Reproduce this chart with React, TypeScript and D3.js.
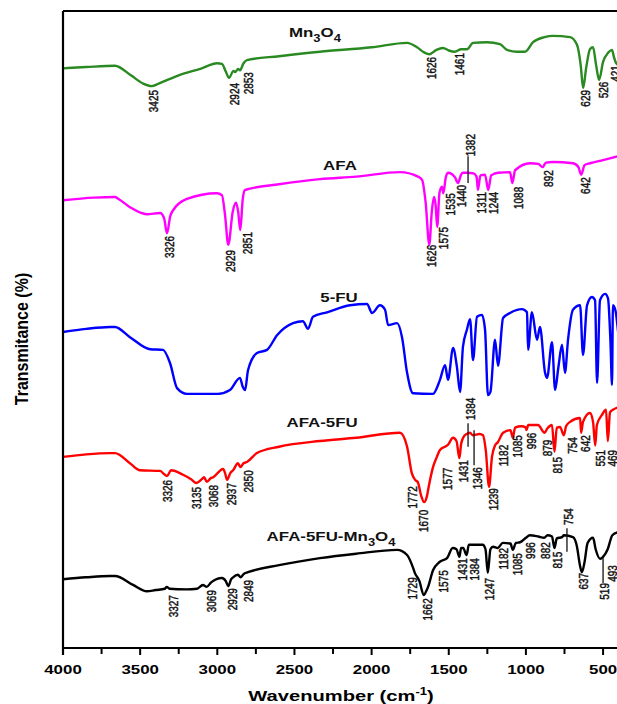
import React from 'react';
import * as d3 from 'd3';

const WIDTH = 617;
const HEIGHT = 704;

// x ticks (wavenumber, cm-1)
const majorTicks = [4000, 3500, 3000, 2500, 2000, 1500, 1000, 500];
const minorTicks = [3750, 3250, 2750, 2250, 1750, 1250, 750];

// Spectra: [wavenumber, transmittance (offset, a.u.)]
const mn3o4: [number, number][] = [
  [4000, 91.0], [3850, 91.2], [3663, 91.4], [3560, 89.9], [3480, 88.6], [3425, 88.2], [3380, 88.6],
  [3250, 89.9], [3100, 91.0], [3002, 91.8], [2970, 91.7], [2945, 90.5], [2924, 89.5], [2895, 90.6],
  [2885, 90.4], [2865, 90.9], [2853, 90.7], [2830, 91.8], [2808, 92.3], [2600, 92.9], [2335, 93.6],
  [2000, 94.3], [1770, 95.0], [1706, 94.3], [1660, 93.5], [1626, 93.2], [1580, 93.9], [1537, 94.2],
  [1500, 93.8], [1461, 93.6], [1420, 94.0], [1382, 94.0], [1343, 95.0], [1252, 95.1], [1168, 94.8],
  [1123, 93.9], [1058, 93.6], [1006, 93.6], [954, 95.1], [880, 95.9], [824, 96.1], [714, 95.9],
  [669, 94.7], [645, 91.5], [629, 87.9], [610, 91.0], [585, 94.0], [565, 94.3], [545, 91.5],
  [526, 89.2], [500, 92.0], [465, 93.5], [442, 93.9], [430, 92.8], [415, 91.8], [400, 91.5],
];

const afa: [number, number][] = [
  [4000, 70.3], [3800, 70.7], [3663, 70.8], [3640, 70.5], [3566, 69.2], [3456, 68.1], [3371, 68.3],
  [3345, 67.5], [3326, 65.1], [3305, 67.8], [3287, 68.7], [3197, 70.5], [3002, 71.4], [2970, 71.1],
  [2950, 68.0], [2929, 63.3], [2900, 68.5], [2879, 69.9], [2865, 68.5], [2851, 65.6], [2835, 70.5],
  [2820, 71.9], [2600, 72.8], [2335, 73.6], [2100, 74.0], [1816, 74.7], [1700, 74.0], [1673, 73.5],
  [1650, 70.0], [1626, 63.3], [1610, 68.5], [1596, 70.8], [1585, 69.5], [1575, 66.1], [1560, 71.5],
  [1544, 72.4], [1535, 71.4], [1520, 73.8], [1505, 74.6], [1460, 73.9], [1440, 73.0], [1420, 74.3],
  [1408, 74.6], [1382, 74.6], [1340, 74.5], [1320, 74.0], [1311, 71.9], [1295, 74.2], [1265, 74.3],
  [1244, 71.9], [1225, 74.2], [1180, 74.6], [1103, 74.7], [1088, 73.0], [1070, 75.0], [973, 76.1],
  [920, 76.0], [892, 75.5], [870, 76.2], [824, 76.3], [695, 76.1], [660, 75.5], [642, 74.3],
  [620, 75.8], [585, 76.1], [500, 76.6], [400, 77.2],
];

const fu5: [number, number][] = [
  [4000, 49.6], [3850, 50.1], [3695, 50.4], [3663, 50.4], [3566, 48.8], [3436, 46.9], [3352, 46.8],
  [3306, 44.7], [3261, 40.8], [3197, 39.9], [2996, 39.9], [2918, 40.5], [2853, 42.4], [2835, 41.0],
  [2820, 40.5], [2801, 43.6], [2743, 46.3], [2678, 46.8], [2613, 49.1], [2509, 51.0], [2445, 51.3],
  [2412, 50.1], [2380, 52.0], [2289, 52.7], [2140, 53.8], [2030, 54.0], [1997, 52.6], [1946, 53.8],
  [1913, 53.1], [1893, 50.7], [1835, 51.0], [1803, 48.8], [1770, 43.2], [1732, 40.0], [1602, 39.9],
  [1557, 42.1], [1524, 44.4], [1505, 42.1], [1472, 47.1], [1447, 44.1], [1427, 40.2], [1408, 47.3],
  [1382, 50.0], [1362, 51.6], [1343, 45.2], [1317, 52.0], [1285, 52.3], [1265, 50.0], [1246, 39.7],
  [1230, 40.2], [1200, 48.4], [1181, 44.3], [1148, 51.8], [1103, 52.6], [1025, 53.2], [993, 52.7],
  [986, 46.8], [961, 52.7], [928, 48.4], [909, 50.4], [876, 43.2], [863, 42.4], [831, 48.0],
  [811, 40.5], [790, 44.0], [766, 47.6], [747, 43.2], [727, 48.4], [695, 53.1], [649, 53.8],
  [630, 46.0], [604, 53.8], [572, 55.1], [552, 54.6], [539, 41.6], [520, 54.6], [487, 55.6],
  [468, 54.9], [452, 48.0], [442, 41.3], [436, 53.8], [420, 53.0], [400, 49.0],
];

const afa5fu: [number, number][] = [
  [4000, 30.0], [3850, 30.4], [3695, 30.6], [3663, 30.6], [3566, 29.0], [3501, 27.9], [3371, 27.8],
  [3345, 27.3], [3326, 27.0], [3300, 27.9], [3222, 27.2], [3170, 26.5], [3135, 25.9], [3100, 26.5],
  [3086, 26.8], [3068, 26.1], [3040, 26.7], [3028, 26.8], [2963, 28.1], [2950, 27.5], [2937, 26.4],
  [2915, 27.5], [2898, 27.9], [2866, 29.0], [2850, 28.4], [2830, 29.0], [2808, 29.2], [2743, 30.6],
  [2600, 31.6], [2335, 32.5], [2100, 33.0], [1816, 33.8], [1770, 31.6], [1740, 27.5], [1718, 26.4],
  [1700, 26.0], [1680, 24.0], [1660, 22.9], [1640, 24.0], [1634, 24.8], [1602, 28.4], [1577, 30.0],
  [1557, 31.1], [1505, 31.9], [1472, 33.0], [1450, 32.5], [1431, 29.8], [1420, 32.0], [1407, 33.0],
  [1384, 33.6], [1362, 33.8], [1346, 33.4], [1300, 33.6], [1278, 33.4], [1260, 31.0], [1239, 25.3],
  [1220, 30.0], [1200, 31.8], [1182, 32.3], [1148, 33.8], [1100, 34.2], [1085, 33.0], [1070, 34.6],
  [1030, 34.8], [1000, 34.6], [996, 34.2], [985, 35.0], [922, 35.0], [879, 33.8], [860, 34.5],
  [831, 35.0], [815, 30.8], [800, 34.6], [779, 34.7], [754, 33.4], [740, 34.8], [714, 35.5],
  [649, 36.1], [642, 33.8], [630, 35.5], [585, 36.9], [565, 35.5], [551, 31.8], [540, 35.0],
  [507, 36.6], [481, 37.4], [469, 32.5], [455, 37.0], [436, 37.4], [400, 37.8],
];

const afa5fuMn: [number, number][] = [
  [4000, 10.8], [3850, 11.1], [3695, 11.3], [3663, 11.3], [3546, 9.9], [3456, 8.9], [3400, 9.1],
  [3340, 9.3], [3327, 9.6], [3310, 9.3], [3200, 9.2], [3132, 9.3], [3093, 9.9], [3069, 9.6],
  [3040, 10.3], [2970, 11.0], [2945, 10.5], [2929, 9.7], [2910, 10.8], [2898, 11.1], [2866, 11.5],
  [2849, 11.1], [2830, 11.6], [2801, 11.9], [2600, 13.0], [2335, 14.1], [2100, 14.8], [1835, 15.4],
  [1770, 14.6], [1730, 12.5], [1720, 11.8], [1690, 10.5], [1662, 8.3], [1645, 9.0], [1634, 9.6],
  [1602, 12.2], [1560, 13.5], [1511, 14.1], [1475, 15.7], [1450, 15.5], [1431, 14.3], [1420, 15.7],
  [1407, 15.7], [1384, 14.6], [1370, 16.2], [1280, 16.2], [1262, 15.5], [1247, 11.8], [1230, 15.5],
  [1213, 15.9], [1182, 15.7], [1150, 16.5], [1100, 16.4], [1085, 15.4], [1065, 16.5], [1038, 16.6],
  [1000, 17.3], [975, 17.7], [920, 17.5], [882, 17.3], [860, 17.7], [831, 17.5], [815, 15.7],
  [800, 17.2], [766, 17.4], [754, 17.7], [695, 17.4], [670, 16.0], [650, 13.0], [637, 11.9],
  [620, 13.5], [600, 16.5], [565, 17.3], [548, 15.5], [519, 14.0], [500, 14.3], [470, 15.5],
  [440, 17.7], [400, 18.2],
];

// Peak annotations: [label, wavenumber position, transmittance of label top]
type Peak = [string, number, number];
const mn3o4Peaks: Peak[] = [
  ['3425', 3417, 87.6], ['2924', 2892, 88.7], ['2853', 2801, 90.4], ['1626', 1615, 92.8],
  ['1461', 1434, 93.4], ['629', 617, 87.6], ['526', 500, 88.9], ['421', 423, 91.5],
];
const afaPeaks: Peak[] = [
  ['3326', 3307, 64.7], ['2929', 2918, 62.5], ['2851', 2807, 65.3], ['1626', 1615, 63.3],
  ['1575', 1537, 66.1], ['1535', 1486, 71.4], ['1440', 1421, 72.7], ['1311', 1285, 71.6],
  ['1244', 1213, 71.6], ['1088', 1051, 72.4], ['892', 857, 75.0], ['642', 617, 73.9],
];
const afa5fuPeaks: Peak[] = [
  ['3326', 3326, 26.4], ['3135', 3132, 25.3], ['3068', 3028, 25.6], ['2937', 2911, 25.9],
  ['2850', 2795, 27.9], ['1772', 1738, 25.4], ['1670', 1667, 21.7], ['1577', 1511, 28.3],
  ['1431', 1408, 29.5], ['1346', 1317, 28.4], ['1239', 1213, 25.1], ['1182', 1148, 31.9],
  ['1085', 1058, 33.4], ['996', 961, 33.8], ['879', 863, 32.7], ['815', 798, 30.0],
  ['754', 701, 33.1], ['642', 617, 33.4], ['551', 520, 31.1], ['469', 436, 31.1],
];
const afa5fuMnPeaks: Peak[] = [
  ['3327', 3287, 8.3], ['3069', 3041, 9.1], ['2929', 2905, 9.4], ['2849', 2795, 10.7],
  ['1729', 1738, 11.1], ['1662', 1641, 7.8], ['1575', 1537, 12.2], ['1431', 1414, 14.1],
  ['1384', 1336, 14.1], ['1247', 1239, 11.0], ['1182', 1148, 15.7], ['1085', 1058, 14.9],
  ['996', 973, 16.6], ['882', 876, 16.6], ['815', 798, 15.1], ['637', 630, 11.8],
  ['519', 494, 10.2], ['493', 436, 13.0],
];
// Labels drawn above the trace: [label, wavenumber, transmittance of label bottom]
const abovePeaks: Peak[] = [
  ['1382', 1362, 77.2], ['1384', 1362, 35.8], ['754', 727, 19.3],
];
// Leader lines: [wavenumber, from transmittance, to transmittance]
const leaderLines: [number, number, number][] = [
  [1375, 77.2, 73.0], [1375, 35.3, 31.6], [1336, 34.2, 28.7], [734, 18.8, 15.1], [500, 14.1, 10.2],
];

type Part = { s: string; sub?: boolean };
const names: { parts: Part[]; w: number; t: number }[] = [
  { parts: [{ s: 'Mn' }, { s: '3', sub: true }, { s: 'O' }, { s: '4', sub: true }], w: 2367, t: 95.9 },
  { parts: [{ s: 'AFA' }], w: 2205, t: 75.0 },
  { parts: [{ s: '5-FU' }], w: 2211, t: 54.3 },
  { parts: [{ s: 'AFA-5FU' }], w: 2321, t: 34.7 },
  { parts: [{ s: 'AFA-5FU-Mn' }, { s: '3', sub: true }, { s: 'O' }, { s: '4', sub: true }], w: 2263, t: 16.8 },
];

const seriesList = [
  { data: mn3o4, color: '#2a8a22', peaks: mn3o4Peaks },
  { data: afa, color: '#ff00ff', peaks: afaPeaks },
  { data: fu5, color: '#0000ff', peaks: [] as Peak[] },
  { data: afa5fu, color: '#ff0000', peaks: afa5fuPeaks },
  { data: afa5fuMn, color: '#000000', peaks: afa5fuMnPeaks },
];

const FONT = 'Liberation Sans, Arial, sans-serif';
const SX = 1.3;

export default function App() {
  const left = 63, top = 11, bottom = 648;
  const x = d3.scaleLinear().domain([4000, 400]).range([left, 618.5]);
  const y = d3.scaleLinear().domain([0, 100]).range([bottom, top]);
  const line = d3.line<[number, number]>()
    .x((d) => x(d[0]))
    .y((d) => y(d[1]))
    .curve(d3.curveMonotoneX);

  const peakText = { fontFamily: FONT, fontSize: 10, fill: '#111', stroke: '#111', strokeWidth: 0.35 };

  return (
    <svg width={WIDTH} height={HEIGHT} style={{ position: 'absolute', left: 0, top: 0, background: '#fff' }}>
      <rect x={0} y={0} width={WIDTH} height={HEIGHT} fill="#fff" />
      {/* traces */}
      {seriesList.map((s, i) => (
        <path key={i} d={line(s.data) || ''} fill="none" stroke={s.color} strokeWidth={2.4} strokeLinejoin="round" />
      ))}
      {/* frame */}
      <line x1={left} x2={WIDTH} y1={top} y2={top} stroke="#000" strokeWidth={2} />
      <line x1={left} x2={left} y1={top} y2={bottom + 7} stroke="#000" strokeWidth={2.2} />
      <line x1={left} x2={WIDTH} y1={bottom} y2={bottom} stroke="#000" strokeWidth={2.2} />
      {majorTicks.map((t) => (
        <g key={'M' + t}>
          <line x1={x(t)} x2={x(t)} y1={bottom} y2={bottom + 7} stroke="#000" strokeWidth={2} />
          <text transform={`translate(${x(t)},674) scale(${SX},1)`} textAnchor="middle" fontFamily={FONT}
            fontWeight="bold" fontSize={13} fill="#000">{t}</text>
        </g>
      ))}
      {minorTicks.map((t) => (
        <line key={'m' + t} x1={x(t)} x2={x(t)} y1={bottom} y2={bottom + 6} stroke="#000" strokeWidth={2} />
      ))}
      {/* axis titles */}
      <text transform={`translate(341,701) scale(${SX},1)`} textAnchor="middle" fontFamily={FONT}
        fontWeight="bold" fontSize={15.5} fill="#000">
        Wavenumber (cm<tspan fontSize={10} dy={-6}>-1</tspan><tspan dy={6}>)</tspan>
      </text>
      <text transform={`translate(28,339) scale(1.15,1) rotate(-90)`} textAnchor="middle" fontFamily={FONT}
        fontWeight="bold" fontSize={16} fill="#000">Transmitance (%)</text>
      {/* series names */}
      {names.map((n, i) => (
        <text key={'n' + i} transform={`translate(${x(n.w)},${y(n.t)}) scale(${SX},1)`} textAnchor="middle"
          fontFamily={FONT} fontWeight="bold" fontSize={13} fill="#111">
          {n.parts.map((p, j) => {
            const prevSub = j > 0 && n.parts[j - 1].sub;
            const dy = p.sub ? 5 : prevSub ? -5 : 0;
            return (
              <tspan key={j} fontSize={p.sub ? 10 : 13} dy={dy}>{p.s}</tspan>
            );
          })}
        </text>
      ))}
      {/* peak labels */}
      {seriesList.map((s, i) =>
        s.peaks.map((p, j) => (
          <text key={`p${i}-${j}`} transform={`translate(${x(p[1])},${y(p[2])}) scale(${SX},1) rotate(-90)`}
            textAnchor="end" dy="0.35em" {...peakText}>{p[0]}</text>
        ))
      )}
      {abovePeaks.map((p, j) => (
        <text key={'a' + j} transform={`translate(${x(p[1])},${y(p[2])}) scale(${SX},1) rotate(-90)`}
          textAnchor="start" dy="0.35em" {...peakText}>{p[0]}</text>
      ))}
      {leaderLines.map((l, j) => (
        <line key={'l' + j} x1={x(l[0])} x2={x(l[0])} y1={y(l[1])} y2={y(l[2])} stroke="#111" strokeWidth={1.3} />
      ))}
    </svg>
  );
}
